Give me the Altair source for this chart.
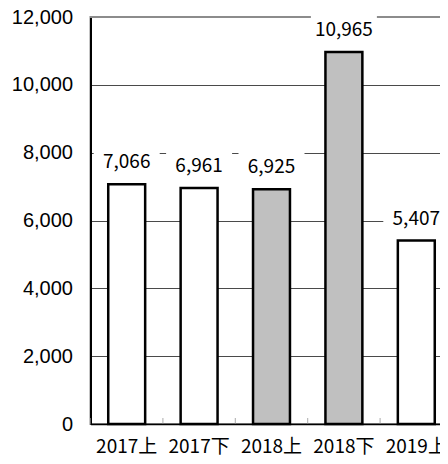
import altair as alt
import pandas as pd

periods = ["2017上", "2017下", "2018上", "2018下", "2019上"]
values = [7066, 6961, 6925, 10965, 5407]
highlighted = ["2018上", "2018下"]
y_ticks = [0, 2000, 4000, 6000, 8000, 10000, 12000]
y_max = 12000

df = pd.DataFrame({"period": periods, "value": values})

x_enc = alt.X(
    "period:N",
    sort=periods,
    scale=alt.Scale(paddingInner=0, paddingOuter=0),
    axis=alt.Axis(
        title=None, labelAngle=0, labelFont="Noto Sans CJK JP", labelFontSize=19,
        labelColor="black", ticks=False, domainColor="black", domainWidth=1.5,
        labelPadding=13, grid=False,
    ),
)
y_enc = alt.Y(
    "value:Q",
    scale=alt.Scale(domain=[0, y_max], nice=False),
    axis=alt.Axis(
        values=y_ticks, format=",d", title=None, grid=True, gridColor="#4a4a4a",
        gridWidth=1, ticks=False, labelPadding=18, labelFont="Liberation Sans",
        labelFontSize=20, labelColor="black", domainColor="black", domainWidth=2,
    ),
)

base = alt.Chart(df)

bars = base.mark_bar(
    width=alt.RelativeBandSize(0.51), stroke="black", strokeWidth=2.5
).encode(
    x=x_enc,
    y=y_enc,
    fill=alt.condition(
        alt.FieldOneOfPredicate(field="period", oneOf=highlighted),
        alt.value("#c0c0c0"),
        alt.value("white"),
    ),
)

top_line = base.mark_rule(color="#8c8c8c", strokeWidth=2, clip=False).encode(
    y=alt.datum(y_max)
)

boxes = base.mark_point(
    shape="M-1,-0.42L1,-0.42L1,0.42L-1,0.42Z",
    size=4356, filled=True, color="white", opacity=1, strokeWidth=0, yOffset=-23,
).encode(x=alt.X("period:N", sort=periods), y="value:Q")

labels = base.mark_text(
    dy=-22, baseline="middle", font="Noto Sans CJK JP", fontSize=19, color="black"
).encode(
    x=alt.X("period:N", sort=periods),
    y="value:Q",
    text=alt.Text("value:Q", format=",d"),
)

ticks = base.mark_tick(
    orient="vertical", size=6, thickness=1, color="#888", yOffset=-3
).encode(
    x=alt.X("period:N", sort=periods, bandPosition=0),
    y=alt.datum(0),
)

chart = (
    alt.layer(top_line, bars, ticks, boxes, labels)
    .properties(
        width=362,
        height=407,
        autosize=alt.AutoSizeParams(type="none"),
        padding={"left": 82.5, "top": 9, "right": -12.5, "bottom": 32},
    )
    .configure_view(stroke="#8c8c8c", strokeWidth=2)
)

chart.save("out.html", embed_options={"renderer": "svg", "actions": False})
